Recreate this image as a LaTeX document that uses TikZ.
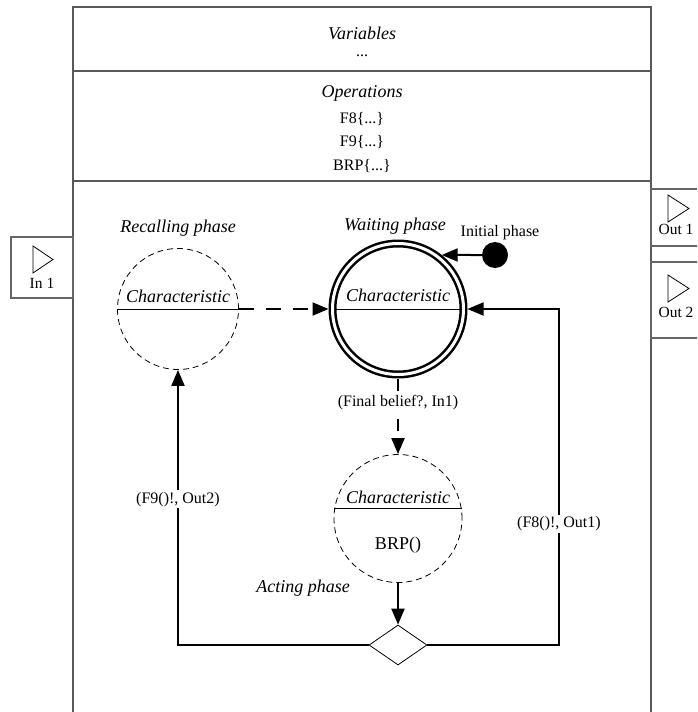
\documentclass[tikz,border=0pt]{standalone}
\usepackage{fontspec}
\setmainfont{Liberation Serif}
\usetikzlibrary{positioning,arrows.meta,shapes.geometric,calc}

\begin{document}
\begin{tikzpicture}[
  x=1pt, y=-1pt, >={Triangle[length=16pt,width=13pt]},
  box/.style={draw=black!65, line width=1.3pt, inner sep=0pt, minimum width=578pt},
  port/.style={draw=black!60, line width=1.1pt, inner sep=0pt, minimum width=50pt},
  head/.style={font=\fontsize{18}{20}\selectfont\itshape, inner sep=0pt},
  txt/.style={font=\fontsize{16}{18}\selectfont, inner sep=0pt},
  ptxt/.style={font=\fontsize{15.5}{17}\selectfont, inner sep=0pt},
  lbl/.style={txt, fill=white, inner sep=1.5pt},
  phase/.style={circle, draw, dash pattern=on 6pt off 4pt, line width=0.8pt, inner sep=0pt},
  waitst/.style={circle, draw, line width=2.5pt, double=white, double distance=3pt,
                 minimum size=131pt, inner sep=0pt, outer sep=4pt},
  tip/.style={line width=0.8pt, line join=miter},
  arr/.style={->, line width=2pt},
  darr/.style={arr, dash pattern=on 15pt off 12pt},
]
\useasboundingbox (0,0) rectangle (697,712);
\clip (0,0) rectangle (697,712);

\node[box, minimum height=64pt]  (vars) at (362,39)  {};
\node[box, minimum height=110pt] (ops)  at (362,126) {};
\node[box, minimum height=560pt] (body) at (362,461) {};

\node[head] (vt) at (362,33)  {Variables};
\node[txt]  (vd) at (362,56)  {...};
\node[head] (ot) at (362,93)  {Operations};
\node[txt]  (o1) at (362,119) {F8\{...\}};
\node[txt]  (o2) at (362,142) {F9\{...\}};
\node[txt]  (o3) at (362,166) {BRP\{...\}};

\node[port, minimum width=62pt, minimum height=61pt] (in1)  at (42,267.5) {};
\node[port, minimum height=57pt] (out1) at (676,217.5) {};
\node[port, minimum height=76pt] (out2) at (676,300)   {};
\draw[tip] (33,246) -- (53,259.5) -- (33,273) -- cycle;
\draw[tip] (668,195) -- (689,208.5) -- (668,222) -- cycle;
\draw[tip] (668,275) -- (689,288.5) -- (668,302) -- cycle;
\node[ptxt] (in1t)  at (42,283)  {In 1};
\node[ptxt] (out1t) at (676,229) {Out 1};
\node[ptxt] (out2t) at (676,312) {Out 2};

\node[phase, minimum size=121pt] (recall) at (178,309)   {};
\node[waitst]                    (wait)   at (398,309)   {};
\node[phase, minimum size=128pt] (act)    at (398,518.5) {};
\node[circle, fill, minimum size=26pt, inner sep=0pt] (init) at (495,255) {};
\node[draw, diamond, minimum width=58pt, minimum height=40pt, inner sep=0pt,
      line width=0.8pt] (dec) at (398,645) {};
\coordinate (rt) at (559,309);

\draw[line width=0.9pt] (recall.west) -- (recall.east);
\draw[line width=0.9pt, shorten <=6pt, shorten >=6pt] (wait.west) -- (wait.east);
\draw[line width=0.9pt] (act.171) -- (act.9);

\node[head] (rc) at (178,296) {Characteristic};
\node[head] (wc) at (398,295) {Characteristic};
\node[head] (ac) at (398,497) {Characteristic};
\node[font=\fontsize{18}{20}\selectfont, inner sep=0pt] (brp) at (398,545) {BRP()};

\node[head] (rl) at (178,228) {Recalling phase};
\node[head] (wl) at (395,226) {Waiting phase};
\node[txt]  (il) at (500,233) {Initial phase};
\node[head] (al) at (303,588) {Acting phase};

\draw[darr] (recall.east) -- (wait.west);
\draw[arr] (init.west) -- (wait.51);
\draw[darr, dash pattern=on 12pt off 8pt] (wait.south) -- node[lbl, pos=0.32] {(Final belief?, In1)} (act.north);
\draw[arr] (act.south) -- (dec.north);
\draw[arr] (dec.west) -| node[lbl, pos=0.765] {(F9()!, Out2)} (recall.south);
\draw[arr] (dec.east) -| node[lbl, pos=0.68] {(F8()!, Out1)} (rt) -- (wait.east);
\end{tikzpicture}
\end{document}
